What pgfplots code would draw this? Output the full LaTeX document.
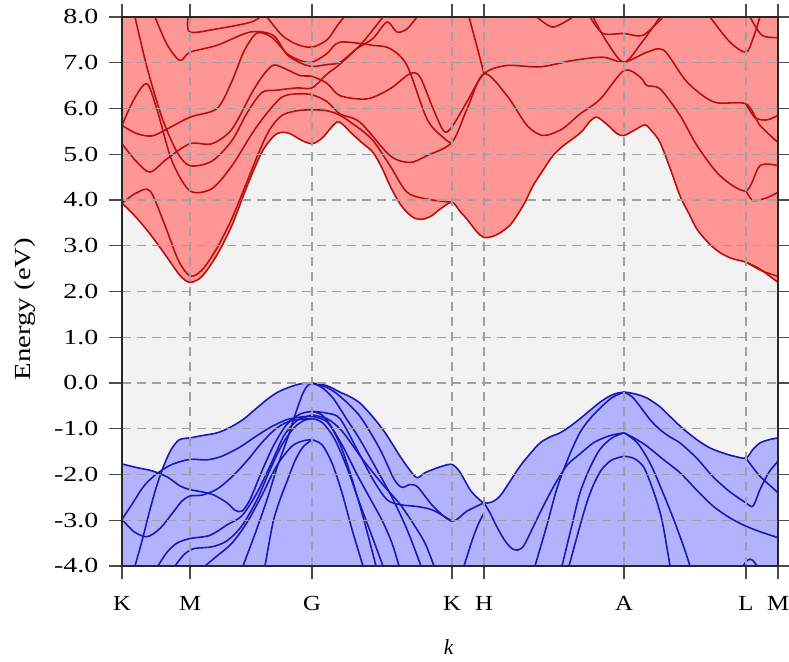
\documentclass[border=0pt]{standalone}
\usepackage{pgfplots}
\pgfplotsset{compat=1.18}
\usepgfplotslibrary{fillbetween}
\usepackage{fontspec}
\setmainfont{Liberation Serif}
\usepackage{graphicx}

\definecolor{cbfill}{RGB}{255,150,150}
\definecolor{vbfill}{RGB}{178,178,255}
\definecolor{cbline}{RGB}{185,15,15}
\definecolor{vbline}{RGB}{25,25,185}
\definecolor{bgc}{RGB}{242,242,242}
\definecolor{gridc}{RGB}{160,160,160}

\newcommand{\tickfont}{\fontsize{21.5pt}{24pt}\selectfont}
\newcommand{\wn}[1]{\scalebox{1.3}[1]{#1}}
\newcommand{\wl}[1]{\scalebox{1.15}[1]{#1}}

\pgfplotsset{
  cb/.style={cbline, line width=1.6pt, smooth},
  vb/.style={vbline, line width=1.6pt, smooth},
}

\begin{document}
\begin{tikzpicture}
\begin{axis}[
  at={(0,0)}, anchor=south west,
  scale only axis, width=656pt, height=549pt,
  xmin=0, xmax=6.56, ymin=-4, ymax=8,
  axis background/.style={fill=bgc},
  axis on top,
  axis line style={line width=2pt, black!85},
  tick style={line width=1.4pt, black!70},
  tick align=outside, major tick length=13pt,
  xtick={0,0.68,1.90,3.30,3.62,5.02,6.24,6.56},
  xticklabels={\wl{K},\wl{M},\wl{G},\wl{K},\wl{H},\wl{A},\wl{L},\wl{M}},
  ytick={-4,-3,-2,-1,0,1,2,3,4,5,6,7,8},
  yticklabels={\wn{-4.0},\wn{-3.0},\wn{-2.0},\wn{-1.0},\wn{0.0},\wn{1.0},\wn{2.0},\wn{3.0},\wn{4.0},\wn{5.0},\wn{6.0},\wn{7.0},\wn{8.0}},
  xticklabel style={font=\tickfont, inner sep=0pt, anchor=north, yshift=-17pt},
  yticklabel style={font=\tickfont, inner sep=0pt, anchor=east, xshift=-10.5pt},
  grid=major,
  major grid style={gridc, line width=1.2pt, dash pattern=on 9pt off 6pt},
  xlabel={\textit{k}},
  ylabel={\scalebox{1.25}[1]{Energy (eV)}},
  xlabel style={font=\tickfont, at={(axis description cs:0.498,-0.1475)}, anchor=center},
  ylabel style={font=\fontsize{23pt}{25pt}\selectfont, at={(axis description cs:-0.148,0.468)}, anchor=center},
]

% ---- conduction-band minimum envelope and red area above it
\addplot[name path=cbm, draw=none, smooth] coordinates {
(0,3.93)(0.15,3.6)(0.30,3.2)(0.45,2.75)(0.58,2.35)(0.68,2.20)(0.80,2.33)(0.95,2.8)(1.10,3.45)(1.25,4.3)(1.40,5.05)(1.52,5.40)(1.60,5.48)(1.68,5.45)(1.80,5.3)(1.90,5.23)(2.00,5.35)(2.12,5.65)(2.18,5.70)(2.30,5.45)(2.40,5.25)(2.51,5.04)(2.60,4.7)(2.68,4.31)(2.77,3.95)(2.85,3.73)(2.93,3.60)(3.01,3.58)(3.10,3.66)(3.18,3.80)(3.30,3.95)(3.38,3.75)(3.45,3.58)(3.55,3.3)(3.62,3.18)(3.70,3.20)(3.78,3.28)(3.88,3.45)(3.95,3.66)(4.03,3.95)(4.11,4.31)(4.21,4.65)(4.31,4.97)(4.41,5.18)(4.51,5.34)(4.60,5.50)(4.68,5.72)(4.75,5.81)(4.85,5.65)(4.95,5.45)(5.02,5.41)(5.12,5.52)(5.23,5.64)(5.30,5.5)(5.38,5.26)(5.48,4.7)(5.58,4.09)(5.67,3.7)(5.75,3.36)(5.87,3.05)(5.98,2.85)(6.10,2.72)(6.24,2.64)(6.38,2.49)(6.48,2.33)(6.56,2.20)
};
\addplot[name path=cbtop, draw=none] coordinates {(0,8.5)(6.56,8.5)};
\addplot[cbfill] fill between[of=cbm and cbtop];

% ---- valence-band maximum envelope and blue area below it
\addplot[name path=vbm, draw=none, smooth] coordinates {
(0,-1.77)(0.15,-1.85)(0.30,-1.92)(0.38,-1.96)(0.41,-1.85)(0.48,-1.5)(0.55,-1.28)(0.60,-1.22)(0.68,-1.20)(0.80,-1.15)(0.95,-1.09)(1.08,-0.97)(1.21,-0.80)(1.33,-0.58)(1.45,-0.36)(1.55,-0.21)(1.65,-0.11)(1.78,-0.02)(1.90,0.0)(2.05,-0.06)(2.18,-0.2)(2.28,-0.30)(2.38,-0.44)(2.50,-0.72)(2.61,-1.02)(2.70,-1.32)(2.78,-1.60)(2.87,-1.88)(2.95,-2.07)(3.03,-1.96)(3.11,-1.89)(3.20,-1.82)(3.30,-1.78)(3.38,-1.95)(3.48,-2.33)(3.55,-2.5)(3.62,-2.62)(3.70,-2.6)(3.78,-2.47)(3.88,-2.15)(3.98,-1.82)(4.08,-1.55)(4.18,-1.31)(4.28,-1.18)(4.38,-1.09)(4.48,-0.95)(4.58,-0.78)(4.68,-0.6)(4.78,-0.42)(4.90,-0.26)(5.02,-0.20)(5.15,-0.25)(5.25,-0.33)(5.38,-0.52)(5.48,-0.73)(5.60,-0.98)(5.75,-1.24)(5.88,-1.42)(6.01,-1.53)(6.12,-1.60)(6.24,-1.64)(6.31,-1.45)(6.38,-1.31)(6.47,-1.24)(6.56,-1.20)
};
\addplot[name path=vbbot, draw=none] coordinates {(0,-4.5)(6.56,-4.5)};
\addplot[vbfill] fill between[of=vbm and vbbot];

% ---- conduction bands
\addplot[cb] coordinates {(0,3.93)(0.15,3.6)(0.30,3.2)(0.45,2.75)(0.58,2.35)(0.68,2.20)(0.80,2.33)(0.95,2.8)(1.10,3.45)(1.25,4.3)(1.40,5.05)(1.52,5.40)(1.60,5.48)(1.68,5.45)(1.80,5.3)(1.90,5.23)(2.00,5.35)(2.12,5.65)(2.18,5.70)(2.30,5.45)(2.40,5.25)(2.51,5.04)(2.60,4.7)(2.68,4.31)(2.77,3.95)(2.85,3.73)(2.93,3.60)(3.01,3.58)(3.10,3.66)(3.18,3.80)(3.30,3.95)(3.38,3.75)(3.45,3.58)(3.55,3.3)(3.62,3.18)(3.70,3.20)(3.78,3.28)(3.88,3.45)(3.95,3.66)(4.03,3.95)(4.11,4.31)(4.21,4.65)(4.31,4.97)(4.41,5.18)(4.51,5.34)(4.60,5.50)(4.68,5.72)(4.75,5.81)(4.85,5.65)(4.95,5.45)(5.02,5.41)(5.12,5.52)(5.23,5.64)(5.30,5.5)(5.38,5.26)(5.48,4.7)(5.58,4.09)(5.67,3.7)(5.75,3.36)(5.87,3.05)(5.98,2.85)(6.10,2.72)(6.24,2.64)(6.38,2.49)(6.48,2.33)(6.56,2.20)};
\addplot[cb] coordinates {(0,3.93)(0.14,4.15)(0.28,4.20)(0.42,3.5)(0.56,2.7)(0.68,2.34)(0.80,2.47)(0.95,2.95)(1.10,3.6)(1.25,4.4)(1.38,5.1)(1.48,5.55)(1.60,5.85)(1.75,5.95)(1.90,5.97)(2.05,5.95)(2.18,5.85)(2.35,5.6)(2.51,5.3)(2.68,4.75)(2.85,4.17)(3.05,4.02)(3.30,3.95)};
\addplot[cb] coordinates {(0,5.23)(0.14,4.85)(0.28,4.61)(0.45,4.9)(0.68,5.23)(0.90,5.23)(1.10,5.55)(1.30,6.35)(1.42,6.75)(1.52,6.95)(1.65,6.85)(1.78,6.72)(1.90,6.70)(2.05,6.55)(2.18,6.28)(2.45,6.21)(2.68,6.43)(2.88,6.76)(2.98,6.69)(3.11,6.0)(3.22,5.5)(3.30,5.6)(3.45,6.15)(3.62,6.76)(3.85,6.94)(4.18,6.91)(4.51,7.05)(4.81,7.12)(5.02,7.01)(5.25,7.23)(5.42,7.27)(5.65,6.58)(5.92,6.14)(6.24,6.10)(6.38,5.63)(6.56,5.26)};
\addplot[cb] coordinates {(0,5.63)(0.12,6.2)(0.25,6.54)(0.36,5.9)(0.50,4.85)(0.68,4.20)(0.90,4.25)(1.10,4.75)(1.30,5.45)(1.45,5.9)(1.60,6.25)(1.75,6.32)(1.90,6.30)(2.05,6.15)(2.18,5.88)(2.38,5.70)(2.68,4.97)(2.88,4.82)(3.05,4.97)(3.30,5.26)(3.45,5.99)(3.62,6.76)(3.85,6.28)(4.05,5.63)(4.21,5.41)(4.40,5.55)(4.58,5.88)(4.78,6.2)(5.02,6.83)(5.18,6.69)(5.25,6.50)(5.38,6.43)(5.58,5.85)(5.75,5.19)(5.98,4.53)(6.24,4.20)(6.38,4.75)(6.56,4.75)};
\addplot[cb] coordinates {(0.13,8.0)(0.25,6.9)(0.40,5.8)(0.55,5.05)(0.68,4.75)(0.90,4.85)(1.10,5.3)(1.25,5.9)(1.40,6.35)(1.55,6.40)(1.75,6.45)(1.90,6.45)(2.05,6.75)(2.18,6.97)(2.38,7.38)(2.52,7.75)(2.61,8.0)};
\addplot[cb] coordinates {(0.33,8.0)(0.45,7.4)(0.58,7.05)(0.68,7.23)(0.95,7.38)(1.28,7.67)(1.51,7.6)(1.65,7.18)(1.78,7.0)(1.90,6.92)(2.05,6.96)(2.18,7.01)(2.35,7.31)(2.51,7.53)(2.65,7.89)(2.75,7.67)(2.85,7.74)(2.95,8.0)};
\addplot[cb] coordinates {(0,5.63)(0.15,5.45)(0.30,5.4)(0.45,5.55)(0.68,5.81)(0.95,6.0)(1.10,6.6)(1.22,7.25)(1.35,7.65)(1.50,7.55)(1.65,7.2)(1.78,7.05)(1.90,7.01)(2.05,7.2)(2.18,7.45)(2.51,7.38)(2.68,7.31)(2.85,6.94)(3.05,5.77)(3.21,5.37)(3.30,5.23)};
\addplot[cb] coordinates {(1.45,8.0)(1.60,7.6)(1.75,7.4)(1.90,7.34)(2.05,7.5)(2.15,7.8)(2.22,8.0)};
\addplot[cb] coordinates {(0.66,8.0)(0.68,7.67)(0.95,7.74)(1.28,7.88)(1.38,8.0)};
\addplot[cb] coordinates {(3.47,8.0)(3.55,7.35)(3.62,6.76)};
\addplot[cb] coordinates {(4.15,8.0)(4.31,7.78)(4.51,8.0)};
\addplot[cb] coordinates {(4.68,8.0)(4.81,7.64)(5.02,7.64)(5.21,7.6)(5.41,8.0)};
\addplot[cb] coordinates {(4.71,8.0)(4.85,7.45)(5.02,7.01)(5.20,7.45)(5.38,8.0)};
\addplot[cb] coordinates {(5.88,8.0)(6.08,7.45)(6.24,7.23)(6.31,7.53)(6.38,8.0)};
\addplot[cb] coordinates {(6.28,8.0)(6.40,7.6)(6.56,7.55)};
\addplot[cb] coordinates {(6.24,4.20)(6.31,3.99)(6.45,4.05)(6.56,4.17)};
\addplot[cb] coordinates {(6.24,6.10)(6.33,5.8)(6.45,5.75)(6.56,5.85)};
\addplot[cb] coordinates {(6.24,2.64)(6.40,2.45)(6.56,2.33)};

% ---- valence bands: K - M - G
\addplot[vb] coordinates {(0.13,-4.0)(0.20,-3.45)(0.27,-2.85)(0.34,-2.3)(0.41,-1.85)(0.48,-1.5)(0.55,-1.28)(0.60,-1.22)(0.68,-1.20)(0.80,-1.15)(0.95,-1.09)(1.08,-0.97)(1.21,-0.80)(1.33,-0.58)(1.45,-0.36)(1.55,-0.21)(1.65,-0.11)(1.78,-0.02)(1.90,0.0)};
\addplot[vb] coordinates {(0,-1.77)(0.15,-1.85)(0.30,-1.92)(0.45,-2.05)(0.58,-2.25)(0.68,-2.33)(0.80,-2.38)(0.92,-2.45)(1.05,-2.62)(1.13,-2.78)(1.20,-2.80)(1.28,-2.55)(1.40,-1.92)(1.52,-1.35)(1.65,-0.90)(1.78,-0.68)(1.90,-0.62)};
\addplot[vb] coordinates {(0,-2.98)(0.10,-2.65)(0.22,-2.25)(0.35,-1.98)(0.50,-1.78)(0.68,-1.67)(0.85,-1.68)(1.00,-1.60)(1.18,-1.40)(1.35,-1.15)(1.50,-0.95)(1.65,-0.80)(1.80,-0.74)(1.90,-0.73)};
\addplot[vb] coordinates {(0,-2.98)(0.12,-3.25)(0.25,-3.36)(0.38,-3.18)(0.52,-2.8)(0.60,-2.58)(0.68,-2.47)(0.80,-2.45)(0.95,-2.32)(1.10,-2.05)(1.25,-1.70)(1.40,-1.30)(1.55,-0.98)(1.70,-0.82)(1.90,-0.78)};
\addplot[vb] coordinates {(0.36,-4.0)(0.45,-3.7)(0.55,-3.5)(0.68,-3.40)(0.88,-3.33)(1.05,-3.10)(1.20,-2.90)(1.35,-2.4)(1.50,-1.72)(1.62,-1.15)(1.75,-0.82)(1.90,-0.70)};
\addplot[vb] coordinates {(0.53,-4.0)(0.62,-3.75)(0.72,-3.62)(0.90,-3.58)(1.05,-3.45)(1.20,-3.12)(1.35,-2.55)(1.48,-1.90)(1.60,-1.35)(1.72,-0.98)(1.82,-0.82)(1.90,-0.78)};
\addplot[vb] coordinates {(0.83,-4.0)(0.95,-3.78)(1.10,-3.50)(1.25,-3.05)(1.40,-2.45)(1.55,-1.80)(1.70,-1.38)(1.82,-1.26)(1.90,-1.24)};
\addplot[vb] coordinates {(1.21,-4.0)(1.33,-3.3)(1.45,-2.55)(1.55,-1.85)(1.65,-1.24)(1.73,-0.7)(1.81,-0.22)(1.86,-0.05)(1.90,0.0)};
\addplot[vb] coordinates {(1.43,-4.0)(1.51,-3.05)(1.58,-2.55)(1.65,-2.15)(1.73,-1.7)(1.81,-1.40)(1.90,-1.24)};

% ---- valence bands: G - K - H - A - L - M
\addplot[vb] coordinates {(1.90,0.0)(2.05,-0.06)(2.18,-0.2)(2.28,-0.30)(2.38,-0.44)(2.50,-0.72)(2.61,-1.02)(2.70,-1.32)(2.78,-1.60)(2.87,-1.88)(2.95,-2.07)(3.03,-1.96)(3.11,-1.89)(3.20,-1.82)(3.30,-1.78)(3.38,-1.95)(3.48,-2.33)(3.55,-2.5)(3.62,-2.62)(3.70,-2.6)(3.78,-2.47)(3.88,-2.15)(3.98,-1.82)(4.08,-1.55)(4.18,-1.31)(4.28,-1.18)(4.38,-1.09)(4.48,-0.95)(4.58,-0.78)(4.68,-0.6)(4.78,-0.42)(4.90,-0.26)(5.02,-0.20)(5.15,-0.25)(5.25,-0.33)(5.38,-0.52)(5.48,-0.73)(5.60,-0.98)(5.75,-1.24)(5.88,-1.42)(6.01,-1.53)(6.12,-1.60)(6.24,-1.64)(6.31,-1.45)(6.38,-1.31)(6.47,-1.24)(6.56,-1.20)};
\addplot[vb] coordinates {(1.90,0)(2.05,-0.1)(2.18,-0.29)(2.38,-0.73)(2.58,-1.45)(2.72,-2.1)(2.80,-2.28)(2.88,-2.22)(2.96,-2.28)(3.11,-2.69)(3.30,-3.02)(3.45,-2.80)(3.62,-2.62)};
\addplot[vb] coordinates {(1.90,-0.62)(2.05,-0.66)(2.18,-0.78)(2.35,-1.45)(2.51,-2.11)(2.65,-2.55)(2.78,-2.66)(2.95,-2.70)(3.11,-2.78)(3.30,-3.02)};
\addplot[vb] coordinates {(1.90,-0.62)(2.00,-0.70)(2.10,-0.98)(2.20,-1.45)(2.30,-2.1)(2.42,-3.0)(2.54,-4.0)};
\addplot[vb] coordinates {(1.90,-0.78)(2.00,-0.86)(2.12,-1.2)(2.25,-1.85)(2.38,-2.65)(2.50,-3.35)(2.61,-4.0)};
\addplot[vb] coordinates {(1.90,-1.24)(2.00,-1.35)(2.10,-1.75)(2.20,-2.4)(2.30,-3.2)(2.41,-4.0)};
\addplot[vb] coordinates {(1.90,-0.73)(2.05,-0.85)(2.20,-1.35)(2.35,-2.0)(2.48,-2.52)(2.60,-3.0)(2.70,-3.5)(2.77,-4.0)};
\addplot[vb] coordinates {(1.90,0.0)(2.00,-0.1)(2.11,-0.33)(2.25,-0.8)(2.38,-1.24)(2.55,-1.9)(2.70,-2.5)(2.85,-3.2)(2.99,-4.0)};
\addplot[vb] coordinates {(1.90,-0.70)(2.05,-0.78)(2.20,-1.05)(2.40,-1.65)(2.60,-2.2)(2.78,-2.65)(2.92,-3.1)(3.03,-3.5)(3.12,-4.0)};
\addplot[vb] coordinates {(3.42,-4.0)(3.50,-3.45)(3.56,-3.1)(3.62,-2.84)};
\addplot[vb] coordinates {(3.62,-2.62)(3.68,-2.84)(3.75,-3.15)(3.83,-3.45)(3.90,-3.62)(3.96,-3.65)(4.02,-3.55)(4.10,-3.2)(4.20,-2.75)(4.32,-2.25)(4.45,-1.8)(4.58,-1.55)(4.72,-1.3)(4.88,-1.15)(5.02,-1.09)};
\addplot[vb] coordinates {(4.13,-4.0)(4.25,-3.1)(4.35,-2.3)(4.47,-1.6)(4.58,-1.08)(4.68,-0.78)(4.78,-0.55)(4.90,-0.32)(5.02,-0.20)};
\addplot[vb] coordinates {(4.40,-4.0)(4.50,-3.1)(4.58,-2.4)(4.68,-1.85)(4.78,-1.45)(4.90,-1.20)(5.02,-1.09)};
\addplot[vb] coordinates {(4.47,-4.0)(4.57,-3.2)(4.65,-2.6)(4.72,-2.2)(4.80,-1.88)(4.90,-1.68)(5.02,-1.60)};
\addplot[vb] coordinates {(5.02,-0.20)(5.10,-0.3)(5.18,-0.51)(5.28,-0.8)(5.38,-1.02)(5.48,-1.18)(5.58,-1.31)(5.75,-1.65)(5.91,-2.05)(6.08,-2.38)(6.24,-2.62)(6.31,-2.69)(6.38,-2.33)(6.47,-1.95)(6.56,-1.71)};
\addplot[vb] coordinates {(5.02,-1.09)(5.12,-1.2)(5.25,-1.38)(5.40,-1.65)(5.58,-1.96)(5.75,-2.35)(5.91,-2.69)(6.08,-2.95)(6.24,-3.13)(6.38,-3.25)(6.56,-3.38)};
\addplot[vb] coordinates {(5.02,-1.09)(5.15,-1.3)(5.28,-1.75)(5.40,-2.35)(5.52,-3.0)(5.62,-3.6)(5.68,-4.0)};
\addplot[vb] coordinates {(5.02,-1.60)(5.12,-1.65)(5.22,-1.85)(5.32,-2.4)(5.40,-3.0)(5.48,-4.0)};
\addplot[vb] coordinates {(6.24,-1.64)(6.31,-1.85)(6.38,-2.04)(6.47,-2.22)(6.56,-2.40)};
\addplot[vb] coordinates {(6.21,-4.0)(6.25,-3.88)(6.28,-3.85)(6.31,-3.88)(6.35,-4.0)};
\end{axis}
\pgfresetboundingbox
\path (-122pt,-95pt) rectangle (667pt,566pt);
\end{tikzpicture}
\end{document}
